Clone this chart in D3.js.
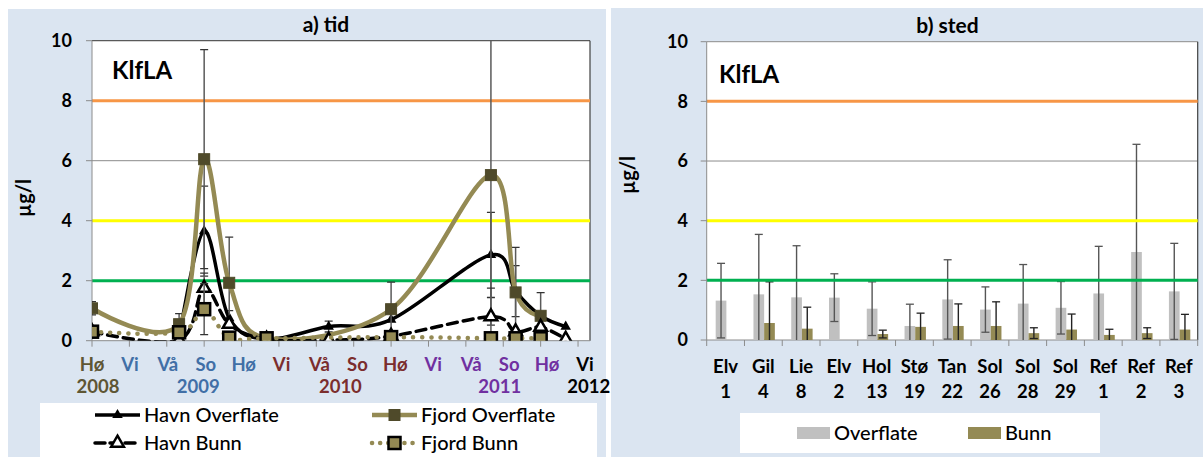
<!DOCTYPE html>
<html><head><meta charset="utf-8">
<script src="https://cdn.jsdelivr.net/npm/d3@7"></script>
<style>body{margin:0;background:#fff}svg{display:block}text{font-family:Lato,'Open Sans',sans-serif}</style>
</head><body><svg id="c" width="1203" height="457"></svg>
<script>
// ---------- data: panel a) tid ----------
const seasonLabels = ["Hø","Vi","Vå","So","Hø","Vi","Vå","So","Hø","Vi","Vå","So","Hø","Vi"];
const seasonYears  = [2008,2009,2009,2009,2009,2010,2010,2010,2010,2011,2011,2011,2011,2012];
const yearLabels   = ["2008","2009","2010","2011","2012"];
const yearLabelAt  = [0.16, 2.8, 6.55, 10.75, 13.1];   // season-index position of year label
const sampleTime   = [0, 2.33, 3, 3.67, 4.67, 6.33, 8, 10.67, 11.33, 12, 12.67]; // season index
const havnOverflate   = [null, 0.08, 3.65, 0.75, 0.05, 0.47, 0.7, 2.86, 1.65, 0.83, 0.47];
const havnOverflateSD = [null, 0, 1.5, 0.25, 0, 0.18, 0, 1.42, 0.85, 0, 0];
const fjordOverflate   = [1.08, 0.55, 6.05, 1.93, 0.08, null, 1.05, 5.52, 1.61, 0.83, null];
const fjordOverflateSD = [0.22, 0.35, 3.65, 1.52, 0, null, 0.9, 5.0, 1.5, 0.77, null];
const havnBunn   = [0.3, 0.02, 1.75, 0.55, 0.05, 0.02, 0.15, 0.8, 0.3, 0.45, 0.05];
const havnBunnSD = [0, 0, 0.5, 0, 0, 0, 0, 0.95, 0, 0, 0];
const fjordBunn   = [0.3, 0.28, 1.05, 0.1, 0.08, null, 0.12, 0.08, 0.08, 0.08, null];
const fjordBunnSD = [0, 0, 0.85, 0, 0, null, 0, 0, 0, 0, null];

// ---------- data: panel b) sted ----------
const siteNames = ["Elv","Gil","Lie","Elv","Hol","Stø","Tan","Sol","Sol","Sol","Ref","Ref","Ref"];
const siteNums  = ["1","4","8","2","13","19","22","26","28","29","1","2","3"];
const overflate   = [1.32, 1.53, 1.43, 1.42, 1.05, 0.47, 1.36, 1.02, 1.22, 1.08, 1.56, 2.95, 1.63];
const overflateSD = [1.25, 2.01, 1.73, 0.8, 0.9, 0.73, 1.33, 0.76, 1.31, 0.88, 1.58, 3.61, 1.61];
const bunn   = [null, 0.57, 0.38, null, 0.2, 0.44, 0.47, 0.47, 0.23, 0.35, 0.17, 0.23, 0.35];
const bunnSD = [null, 1.38, 0.72, null, 0.13, 0.46, 0.74, 0.81, 0.18, 0.52, 0.19, 0.18, 0.51];

// ---------- shared ----------
const yTicks = [0, 2, 4, 6, 8, 10];
const refLevels = [2, 4, 8];
const refColors = ["#00b050", "#ffff00", "#f79646"];
const yearColors = {2008:"#5e5634", 2009:"#416fa6", 2010:"#7b2d2d", 2011:"#7030a0", 2012:"#000000"};

const svg = d3.select("#c");
const BG = "#dbe5f1";
svg.append("rect").attr("x",8).attr("y",9).attr("width",598).attr("height",448).attr("fill",BG);
svg.append("rect").attr("x",611).attr("y",8).attr("width",592).attr("height",449).attr("fill",BG);

function yAxis(g, y, x0, labelX) {
  g.append("line").attr("x1",x0).attr("x2",x0).attr("y1",y(0)).attr("y2",y(10)).attr("stroke","#8c8c8c");
  yTicks.forEach(t => {
    g.append("line").attr("x1",x0-6).attr("x2",x0).attr("y1",y(t)).attr("y2",y(t)).attr("stroke","#8c8c8c");
    g.append("text").attr("x",labelX).attr("y",y(t)).attr("dy","0.35em").attr("text-anchor","end")
      .attr("font-size",18).attr("font-weight","bold").text(t);
  });
}

// ================= Panel a =================
const xL = d3.scaleLinear().domain([0, 13.32]).range([92, 590]);
const xLab = d3.scaleLinear().domain([0, 13]).range([92, 585]);
const yL = d3.scaleLinear().domain([0, 10]).range([340.7, 40.7]);
const gA = svg.append("g");
gA.append("rect").attr("x",xL(0)).attr("y",yL(10)).attr("width",xL(13.32)-xL(0)).attr("height",yL(0)-yL(10)).attr("fill","#fff");
gA.append("clipPath").attr("id","clipA").append("rect")
  .attr("x",xL(0)).attr("y",yL(10)).attr("width",xL(13.32)-xL(0)).attr("height",yL(0)-yL(10));
[2,4,6,8].forEach(t => gA.append("line").attr("x1",xL(0)).attr("x2",xL(13.32)).attr("y1",yL(t)).attr("y2",yL(t)).attr("stroke","#8c8c8c"));
gA.append("line").attr("x1",xL(0)).attr("x2",xL(13.32)).attr("y1",yL(10)).attr("y2",yL(10)).attr("stroke","#595959").attr("stroke-width",1.2);
gA.append("line").attr("x1",xL(13.32)).attr("x2",xL(13.32)).attr("y1",yL(10)).attr("y2",yL(0)).attr("stroke","#404040").attr("stroke-width",1.2);
refLevels.forEach((r,i) => gA.append("line").attr("x1",xL(0)).attr("x2",xL(13.32)).attr("y1",yL(r)).attr("y2",yL(r)).attr("stroke",refColors[i]).attr("stroke-width",3));
// x axis
gA.append("line").attr("x1",xL(0)).attr("x2",xL(13.32)).attr("y1",yL(0)).attr("y2",yL(0)).attr("stroke","#8c8c8c");
d3.range(14).forEach(i => gA.append("line").attr("x1",xL(i)).attr("x2",xL(i)).attr("y1",yL(0)).attr("y2",yL(0)+6).attr("stroke","#8c8c8c"));
seasonLabels.forEach((s,i) => gA.append("text").attr("x",xLab(i)).attr("y",365).attr("dy","0.35em").attr("text-anchor","middle")
  .attr("font-size",18.5).attr("font-weight","bold").attr("fill",yearColors[seasonYears[i]]).text(s));
yearLabels.forEach((s,i) => gA.append("text").attr("x",xLab(yearLabelAt[i])).attr("y",387).attr("dy","0.35em").attr("text-anchor","middle")
  .attr("font-size",18.5).attr("font-weight","bold").attr("fill",yearColors[+s]).text(s));
yAxis(gA, yL, 92, 72);
gA.append("text").attr("transform","translate(24,198) rotate(-90)").attr("text-anchor","middle").attr("dy","0.35em")
  .attr("font-size",20).attr("font-weight","bold").text("µg/l");
gA.append("text").attr("x",326).attr("y",32).attr("text-anchor","middle").attr("font-size",21).attr("font-weight","bold").text("a) tid");
gA.append("text").attr("x",112).attr("y",79).attr("font-size",24).attr("font-weight","bold").text("KlfLA");

const series = [
  {name:"Havn Overflate", vals:havnOverflate, sd:havnOverflateSD, color:"#000", width:3.5, dash:null, marker:"triFill"},
  {name:"Fjord Overflate", vals:fjordOverflate, sd:fjordOverflateSD, color:"#948a54", width:4.5, dash:null, marker:"sqDark"},
  {name:"Havn Bunn", vals:havnBunn, sd:havnBunnSD, color:"#000", width:3.5, dash:"10,6", marker:"triOpen"},
  {name:"Fjord Bunn", vals:fjordBunn, sd:fjordBunnSD, color:"#948a54", width:4.5, dash:"0.1,9", marker:"sqLight"}
];
function drawMarker(g, type, cx, cy) {
  if (type === "triFill") g.append("path").attr("d", d3.symbol(d3.symbolTriangle, 48)()).attr("transform",`translate(${cx},${cy})`).attr("fill","#000");
  if (type === "triOpen") g.append("path").attr("d", d3.symbol(d3.symbolTriangle, 70)()).attr("transform",`translate(${cx},${cy})`).attr("fill","#fff").attr("stroke","#000").attr("stroke-width",2.5);
  if (type === "sqDark") g.append("rect").attr("x",cx-5.5).attr("y",cy-5.5).attr("width",11).attr("height",11).attr("fill","#4f4a2a").attr("stroke","#4f4a2a");
  if (type === "sqLight") g.append("rect").attr("x",cx-6).attr("y",cy-6).attr("width",12).attr("height",12).attr("fill","#948a54").attr("stroke","#000").attr("stroke-width",2.5);
}
const lineGen = d3.line().x(d => xL(d.t)).y(d => yL(d.v)).curve(d3.curveCatmullRom.alpha(0));
const plotA = gA.append("g").attr("clip-path","url(#clipA)");
series.forEach(s => {
  const pts = sampleTime.map((t,i) => ({t, v:s.vals[i], sd:s.sd[i]})).filter(d => d.v != null);
  const g = plotA.append("g");
  pts.filter(d => d.sd > 0).forEach(d => {
    const lo = Math.max(0, d.v - d.sd), hi = d.v + d.sd, x = xL(d.t);
    g.append("line").attr("x1",x).attr("x2",x).attr("y1",yL(lo)).attr("y2",yL(hi)).attr("stroke","#5a5a5a").attr("stroke-width",1.5);
    g.append("line").attr("x1",x-4).attr("x2",x+4).attr("y1",yL(hi)).attr("y2",yL(hi)).attr("stroke","#333").attr("stroke-width",1.3);
    if (d.v - d.sd > 0) g.append("line").attr("x1",x-4).attr("x2",x+4).attr("y1",yL(lo)).attr("y2",yL(lo)).attr("stroke","#333").attr("stroke-width",1.3);
  });
  const p = g.append("path").attr("d", lineGen(pts)).attr("fill","none").attr("stroke",s.color).attr("stroke-width",s.width);
  if (s.dash) p.attr("stroke-dasharray", s.dash).attr("stroke-linecap","round");
  pts.forEach(d => drawMarker(g, s.marker, xL(d.t), yL(d.v)));
});
// legend a
gA.append("rect").attr("x",40).attr("y",403).attr("width",557).attr("height",54).attr("fill","#fff");
const legPos = [[95,415],[372,415],[95,443],[372,443]];
series.forEach((s,i) => {
  const [lx,ly] = legPos[i];
  const l = gA.append("line").attr("x1",lx).attr("x2",lx+45).attr("y1",ly).attr("y2",ly).attr("stroke",s.color).attr("stroke-width",s.width);
  if (s.dash) l.attr("stroke-dasharray", s.dash === "10,6" ? "10,5" : "0.1,8").attr("stroke-linecap","round");
  drawMarker(gA, s.marker, lx+22.5, ly);
  gA.append("text").attr("x",lx+49).attr("y",ly).attr("dy","0.35em").attr("font-size",20).attr("font-weight",500).text(s.name);
});

// ================= Panel b =================
const xR = d3.scaleBand().domain(d3.range(siteNames.length)).range([706.7, 1197.7]);
const yR = d3.scaleLinear().domain([0, 10]).range([340, 41.7]);
const gB = svg.append("g");
gB.append("rect").attr("x",706.7).attr("y",yR(10)).attr("width",491).attr("height",yR(0)-yR(10)).attr("fill","#fff");
[2,4,6,8,10].forEach(t => gB.append("line").attr("x1",706.7).attr("x2",1197.7).attr("y1",yR(t)).attr("y2",yR(t)).attr("stroke","#8c8c8c"));
gB.append("line").attr("x1",1197.7).attr("x2",1197.7).attr("y1",yR(10)).attr("y2",yR(0)).attr("stroke","#404040").attr("stroke-width",1.2);
gB.append("line").attr("x1",706.7).attr("x2",1197.7).attr("y1",yR(0)).attr("y2",yR(0)).attr("stroke","#8c8c8c");
d3.range(siteNames.length+1).forEach(i => {
  const x = i < siteNames.length ? xR(i) : 1197.7;
  gB.append("line").attr("x1",x).attr("x2",x).attr("y1",yR(0)).attr("y2",yR(0)+6).attr("stroke","#8c8c8c");
});
const bw = xR.bandwidth();
const barDefs = [
  {vals:overflate, sd:overflateSD, off:0.238, color:"#c0c0c0", err:"#555"},
  {vals:bunn, sd:bunnSD, off:0.521, color:"#948a54", err:"#222"}
];
barDefs.forEach(b => {
  b.vals.forEach((v,i) => {
    if (v == null) return;
    const x = xR(i) + bw*b.off, w = bw*0.283;
    gB.append("rect").attr("x",x).attr("y",yR(v)).attr("width",w).attr("height",yR(0)-yR(v)).attr("fill",b.color);
  });
});
barDefs.forEach(b => {
  b.vals.forEach((v,i) => {
    if (v == null) return;
    const cx = xR(i) + bw*b.off + bw*0.283/2;
    const lo = Math.max(0, v - b.sd[i]), hi = v + b.sd[i];
    gB.append("line").attr("x1",cx).attr("x2",cx).attr("y1",yR(lo)).attr("y2",yR(hi)).attr("stroke",b.err).attr("stroke-width",1.4);
    gB.append("line").attr("x1",cx-4).attr("x2",cx+4).attr("y1",yR(hi)).attr("y2",yR(hi)).attr("stroke",b.err).attr("stroke-width",1.3);
    if (v - b.sd[i] > 0) gB.append("line").attr("x1",cx-4).attr("x2",cx+4).attr("y1",yR(lo)).attr("y2",yR(lo)).attr("stroke",b.err).attr("stroke-width",1.3);
  });
});
refLevels.forEach((r,i) => gB.append("line").attr("x1",706.7).attr("x2",1197.7).attr("y1",yR(r)).attr("y2",yR(r)).attr("stroke",refColors[i]).attr("stroke-width",3));
siteNames.forEach((s,i) => {
  const cx = xR(i) + bw/2;
  gB.append("text").attr("x",cx).attr("y",366.7).attr("dy","0.35em").attr("text-anchor","middle").attr("font-size",18.5).attr("font-weight","bold").text(s);
  gB.append("text").attr("x",cx).attr("y",391.7).attr("dy","0.35em").attr("text-anchor","middle").attr("font-size",18.5).attr("font-weight","bold").text(siteNums[i]);
});
yAxis(gB, yR, 706.7, 688);
gB.append("text").attr("transform","translate(628,175) rotate(-90)").attr("text-anchor","middle").attr("dy","0.35em")
  .attr("font-size",20).attr("font-weight","bold").text("µg/l");
gB.append("text").attr("x",947.5).attr("y",33).attr("text-anchor","middle").attr("font-size",21).attr("font-weight","bold").text("b) sted");
gB.append("text").attr("x",719).attr("y",83).attr("font-size",24).attr("font-weight","bold").text("KlfLA");
// legend b
gB.append("rect").attr("x",740).attr("y",413).attr("width",360).attr("height",40).attr("fill","#fff");
[["Overflate","#c0c0c0",797],["Bunn","#948a54",968]].forEach(([n,c,x]) => {
  gB.append("rect").attr("x",x).attr("y",427).attr("width",33).attr("height",12).attr("fill",c);
  gB.append("text").attr("x",x+37).attr("y",433).attr("dy","0.35em").attr("font-size",20).attr("font-weight",500).text(n);
});
</script></body></html>
